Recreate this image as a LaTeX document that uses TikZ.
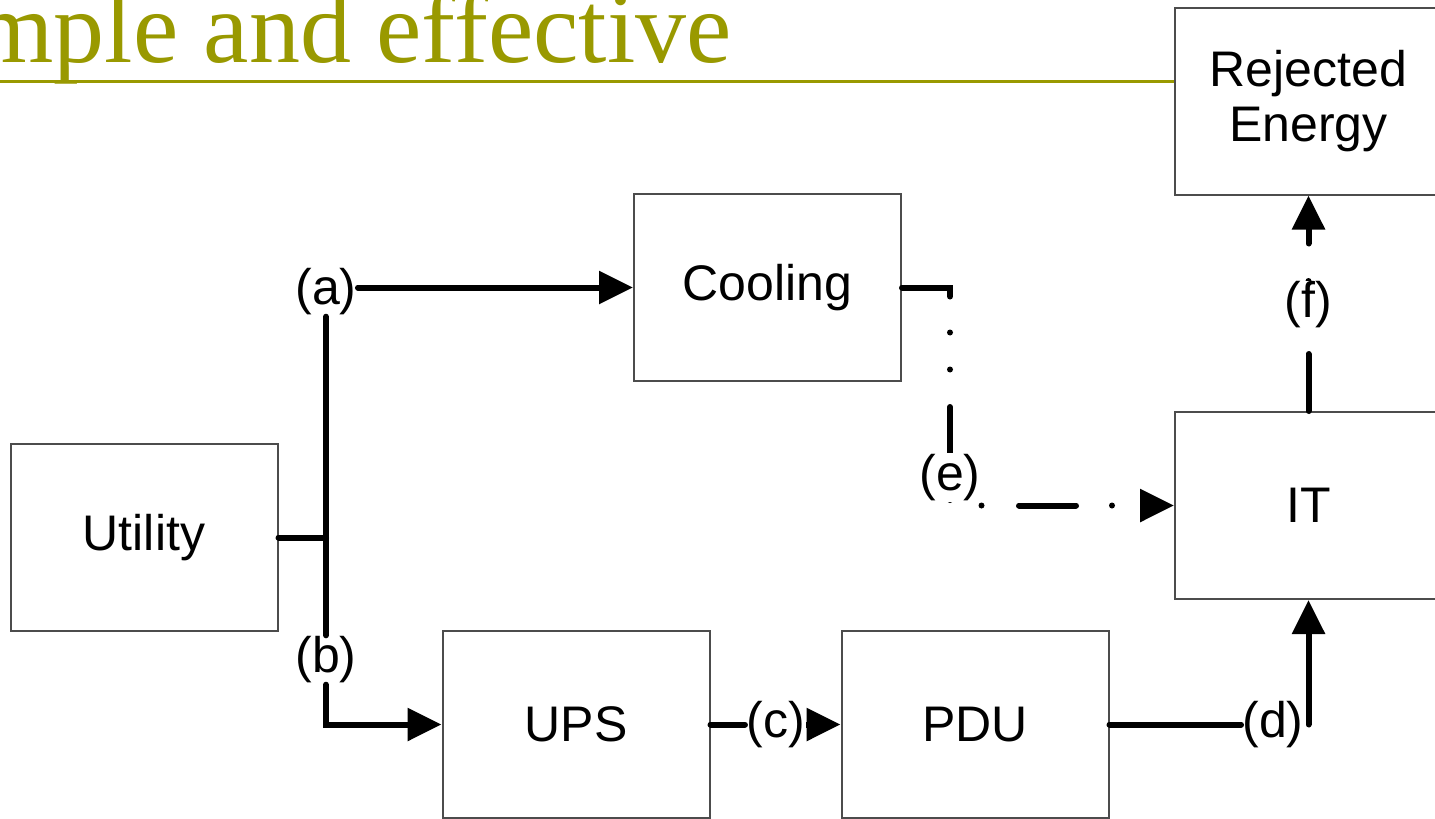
\documentclass[tikz,border=0pt]{standalone}
\usepackage{fontspec}
\setmainfont{Liberation Sans}
\newfontfamily\titlefont{Liberation Serif}
\usetikzlibrary{arrows.meta}
\definecolor{titleolive}{RGB}{153,153,0}

\begin{document}
\begin{tikzpicture}[x=0.5pt, y=-0.5pt,
    >={Triangle[length=17pt,width=16pt]},
    unit/.style={draw=black!70, line width=1pt, minimum width=133.5pt,
      minimum height=93.5pt, align=center, font=\fontsize{25pt}{27.5pt}\selectfont},
    tag/.style={fill=white, inner sep=0.5pt, font=\fontsize{25pt}{27.5pt}\selectfont},
    wire/.style={line width=3pt, line cap=round},
    dashdot/.style={wire, dash pattern=on 28.5pt off 18pt on 0pt off 18.5pt on 0pt off 18.75pt}]
    \useasboundingbox (0,0) rectangle (1435,819);
    % title, cut at the left edge
    \node[anchor=base west, inner sep=0pt, text=titleolive,
      font=\titlefont\fontsize{51pt}{51pt}\selectfont] (title) at (-26,62) {mple and effective};
    % blocks
    \node[unit] (rej) at (1308.5,101) {Rejected\\Energy};
    \node[unit] (cool) at (767.5,287.5) {Cooling};
    \node[unit] (util) at (144,537.5) {Utility};
    \node[unit] (it) at (1308.5,505.5) {IT};
    \node[unit] (ups) at (576,724.5) {UPS};
    \node[unit] (pdu) at (975,724.5) {PDU};
    % title rule up to the rejected energy block
    \coordinate (rulestart) at (0,81.5);
    \draw[titleolive, line width=1.75pt] (rulestart) -- (rulestart -| rej.west);
    % branch labels
    \node[tag] (ta) at (326,292) {(a)};
    \node[tag] (tb) at (326,660) {(b)};
    \node[tag] (tc) at (775.5,724.5) {(c)};
    \node[tag] (td) at (1273,724.5) {(d)};
    % utility splits into (a) and (b)
    \draw[wire] (util.east) -- (util.east -| ta.south);
    \draw[wire] (ta.south) -- (tb.north);
    \draw[wire,->] (ta.east |- cool.west) -- (cool.west);
    \draw[wire,->] (tb.south) |- (ups.west);
    % power chain
    \draw[wire] (ups.east) -- (tc.west);
    \draw[wire,line cap=butt,->] (tc.east) -- (pdu.west);
    \draw[wire] (pdu.east) -- (td.west);
    \draw[wire,->] (td.east -| it.south) -- (it.south);
    % cooling to IT, dash-dot
    \coordinate (ebend) at (950,505.5);
    \draw[dashdot,->] (cool.east) -| (ebend) -- (it.west);
    \node[tag] (te) at (950,477.5) {(e)};
    % IT to rejected energy
    \draw[dashdot,->] (it.north) -- (rej.south);
    \node[tag] (tf) at (1308.5,305) {(f)};
\end{tikzpicture}
\end{document}
